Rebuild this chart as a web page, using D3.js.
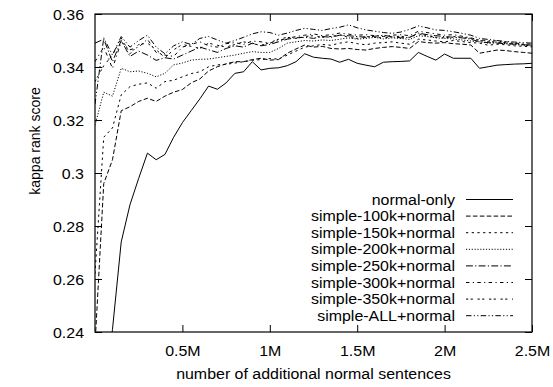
<!DOCTYPE html>
<html>
<head>
<meta charset="utf-8">
<script src="https://cdn.jsdelivr.net/npm/d3@7"></script>
<style>
  body { margin: 0; background: #fff; }
  text { font-family: "Liberation Sans", Arial, Helvetica, sans-serif; fill: #000; }
</style>
</head>
<body>
<div id="chart"></div>
<script>
// number of additional normal sentences (millions)
const sentences = [0, 0.05, 0.1, 0.15, 0.2, 0.25, 0.3, 0.35, 0.4, 0.45,
    0.5, 0.55, 0.6, 0.65, 0.7, 0.75, 0.8, 0.85, 0.9, 0.95,
    1.0, 1.05, 1.1, 1.15, 1.2, 1.25, 1.3, 1.35, 1.4, 1.45,
    1.5, 1.55, 1.6, 1.65, 1.7, 1.75, 1.8, 1.85, 1.9, 1.95,
    2.0, 2.05, 2.1, 2.15, 2.2, 2.25, 2.3, 2.35, 2.4, 2.45, 2.5];

const normalOnly = [null, 0.215, 0.241, 0.274, 0.288, 0.298, 0.3075, 0.305, 0.307, 0.3135,
    0.319, 0.3235, 0.328, 0.3328, 0.3316, 0.334, 0.3376, 0.3382, 0.342, 0.3389,
    0.3395, 0.3397, 0.3405, 0.342, 0.345, 0.3437, 0.3433, 0.343, 0.3418, 0.3429,
    0.3414, 0.3407, 0.3401, 0.3418, 0.342, 0.3421, 0.3423, 0.3455, 0.344, 0.3426,
    0.3449, 0.3433, 0.3433, 0.3433, 0.3395, 0.3401, 0.3407, 0.3409, 0.3411, 0.3412, 0.3414];

const simple100k = [0.235, 0.296, 0.305, 0.3235, 0.325, 0.327, 0.3282, 0.327, 0.329, 0.3305,
    0.3315, 0.334, 0.3355, 0.3385, 0.3401, 0.3412, 0.342, 0.342, 0.3428, 0.3433,
    0.3426, 0.3428, 0.3452, 0.3468, 0.3483, 0.3475, 0.3478, 0.347, 0.3468, 0.347,
    0.3466, 0.3464, 0.347, 0.3474, 0.3477, 0.3474, 0.347, 0.3496, 0.3492, 0.349,
    0.3492, 0.3488, 0.3486, 0.3483, 0.3452, 0.3458, 0.3464, 0.3462, 0.3458, 0.3455, 0.3452];

const simple150k = [0.262, 0.3135, 0.317, 0.3295, 0.3326, 0.3335, 0.334, 0.332, 0.3345, 0.335,
    0.3363, 0.3375, 0.3382, 0.3401, 0.3408, 0.341, 0.3415, 0.342, 0.3425, 0.3428,
    0.3432, 0.343, 0.3445, 0.346, 0.3475, 0.348, 0.3485, 0.3482, 0.349, 0.3495,
    0.3488, 0.3484, 0.349, 0.3492, 0.3495, 0.349, 0.3486, 0.3505, 0.3502, 0.3498,
    0.3495, 0.35, 0.3496, 0.3492, 0.349, 0.3482, 0.3486, 0.3484, 0.348, 0.3478, 0.3476];

const simple200k = [0.318, 0.3305, 0.329, 0.3395, 0.3382, 0.3385, 0.3376, 0.3363, 0.3376, 0.3408,
    0.3415, 0.3426, 0.3429, 0.343, 0.3435, 0.344, 0.3445, 0.3452, 0.3458, 0.3455,
    0.3455, 0.347, 0.349, 0.3495, 0.35, 0.3498, 0.3502, 0.35, 0.3505, 0.351,
    0.3505, 0.3508, 0.3512, 0.3506, 0.351, 0.3508, 0.3504, 0.3518, 0.3515, 0.351,
    0.3508, 0.3506, 0.3502, 0.3498, 0.3495, 0.349, 0.3492, 0.3488, 0.3485, 0.3482, 0.348];

const simple250k = [0.349, 0.3505, 0.342, 0.350, 0.344, 0.346, 0.3445, 0.3425, 0.3435, 0.343,
    0.3445, 0.346, 0.3475, 0.3465, 0.3455, 0.347, 0.348, 0.3475, 0.349, 0.348,
    0.3485, 0.3495, 0.3505, 0.351, 0.3512, 0.3508, 0.3515, 0.3512, 0.352, 0.3518,
    0.3515, 0.3512, 0.3516, 0.352, 0.3514, 0.351, 0.3512, 0.3528, 0.3522, 0.3518,
    0.3515, 0.3512, 0.351, 0.3505, 0.3495, 0.3492, 0.349, 0.3488, 0.3486, 0.3484, 0.3482];

const simple300k = [0.342, 0.3475, 0.3395, 0.3495, 0.3465, 0.3475, 0.3505, 0.3455, 0.3445, 0.344,
    0.3475, 0.3485, 0.3495, 0.348, 0.3475, 0.3488, 0.3492, 0.3485, 0.3498, 0.3495,
    0.349, 0.35, 0.3508, 0.3515, 0.352, 0.3525, 0.3518, 0.3522, 0.3528, 0.3524,
    0.352, 0.3522, 0.3518, 0.3515, 0.352, 0.3522, 0.3518, 0.3535, 0.353, 0.3525,
    0.352, 0.3522, 0.3516, 0.351, 0.3502, 0.35, 0.3498, 0.3495, 0.349, 0.3488, 0.3485];

const simple350k = [0.3345, 0.3405, 0.3445, 0.351, 0.345, 0.3485, 0.349, 0.3465, 0.3435, 0.3465,
    0.3485, 0.3478, 0.347, 0.349, 0.3482, 0.3475, 0.3485, 0.3495, 0.3488, 0.3482,
    0.3492, 0.3505, 0.3512, 0.3508, 0.3515, 0.3518, 0.3512, 0.3515, 0.3522, 0.3512,
    0.3508, 0.3515, 0.3512, 0.351, 0.3514, 0.3516, 0.3512, 0.3525, 0.3518, 0.3512,
    0.351, 0.3515, 0.3512, 0.3508, 0.35, 0.3496, 0.3494, 0.3492, 0.3488, 0.3485, 0.3478];

const simpleAll = [0.326, 0.351, 0.3445, 0.3515, 0.3475, 0.350, 0.352, 0.3475, 0.345, 0.348,
    0.3495, 0.3485, 0.3508, 0.3515, 0.3502, 0.349, 0.35, 0.3512, 0.3525, 0.3533,
    0.353, 0.352, 0.3528, 0.3538, 0.3546, 0.3542, 0.3538, 0.3545, 0.355, 0.3559,
    0.3548, 0.354, 0.3535, 0.353, 0.3527, 0.3532, 0.3542, 0.3555, 0.3548, 0.354,
    0.3538, 0.3533, 0.3527, 0.352, 0.3508, 0.3504, 0.35, 0.3496, 0.3494, 0.3492, 0.349];

const seriesNames = ["normal-only", "simple-100k+normal", "simple-150k+normal", "simple-200k+normal",
    "simple-250k+normal", "simple-300k+normal", "simple-350k+normal", "simple-ALL+normal"];
const seriesValues = [normalOnly, simple100k, simple150k, simple200k,
    simple250k, simple300k, simple350k, simpleAll];
// gnuplot style dash patterns
const seriesDashes = [null, "4.6,2.3", "2.3,3.4", "1.15,1.7", "6.9,2.3,1.15,2.3",
    "3.4,3.4,1.15,3.4", "2.3,2.3,2.3,4.6", "5.5,2.3,1.15,2.3,1.15,2.3"];

const xTicks = [0.5, 1, 1.5, 2, 2.5];
const xTickLabels = ["0.5M", "1M", "1.5M", "2M", "2.5M"];
const yTicks = [0.24, 0.26, 0.28, 0.3, 0.32, 0.34, 0.36];
const yTickLabels = ["0.24", "0.26", "0.28", "0.3", "0.32", "0.34", "0.36"];

const width = 553;
const height = 387;
const margin = { top: 14, right: 21, bottom: 55, left: 95 };
const stretch = 1.1; // text in the picture is a bit wider than normal

const x = d3.scaleLinear().domain([0, 2.5]).range([margin.left, width - margin.right]);
const y = d3.scaleLinear().domain([0.24, 0.36]).range([height - margin.bottom, margin.top]);

const svg = d3.select("#chart").append("svg")
    .attr("width", width)
    .attr("height", height);

svg.append("defs").append("clipPath")
    .attr("id", "plotclip")
    .append("rect")
    .attr("x", margin.left)
    .attr("y", margin.top)
    .attr("width", x.range()[1] - x.range()[0])
    .attr("height", y.range()[0] - y.range()[1]);

// Ticks pointing inwards on all four sides
const tickLen = 7;
const bottomAxis = svg.append("g")
    .attr("transform", `translate(0,${y.range()[0]})`)
    .call(d3.axisBottom(x).tickValues(xTicks).tickSize(-tickLen)
        .tickFormat((d, i) => xTickLabels[i]));
svg.append("g")
    .attr("transform", `translate(0,${y.range()[1]})`)
    .call(d3.axisTop(x).tickValues(xTicks).tickSize(-tickLen).tickFormat(""));
const leftAxis = svg.append("g")
    .attr("transform", `translate(${x.range()[0]},0)`)
    .call(d3.axisLeft(y).tickValues(yTicks).tickSize(-tickLen)
        .tickFormat((d, i) => yTickLabels[i]));
svg.append("g")
    .attr("transform", `translate(${x.range()[1]},0)`)
    .call(d3.axisRight(y).tickValues(yTicks).tickSize(-tickLen).tickFormat(""));

svg.selectAll(".domain").remove();
svg.selectAll(".tick line").attr("stroke", "#000").attr("stroke-width", 1);

bottomAxis.selectAll("text")
    .attr("y", null).attr("dy", null)
    .attr("font-size", 14.5)
    .attr("transform", `translate(0,24) scale(${stretch},1)`);
leftAxis.selectAll("text")
    .attr("x", null).attr("dy", null)
    .attr("font-size", 14.5)
    .attr("transform", `translate(-11,5) scale(${stretch},1)`);

// Lines
const line = d3.line()
    .defined(d => d[1] !== null)
    .x(d => x(d[0]))
    .y(d => y(d[1]));

svg.append("g")
    .attr("clip-path", "url(#plotclip)")
    .selectAll("path")
    .data(seriesValues)
    .join("path")
    .attr("d", vals => line(vals.map((v, i) => [sentences[i], v])))
    .attr("fill", "none")
    .attr("stroke", "#000")
    .attr("stroke-width", 1)
    .attr("stroke-dasharray", (d, i) => seriesDashes[i]);

// Frame
svg.append("rect")
    .attr("x", x.range()[0])
    .attr("y", y.range()[1])
    .attr("width", x.range()[1] - x.range()[0])
    .attr("height", y.range()[0] - y.range()[1])
    .attr("fill", "none")
    .attr("stroke", "#000")
    .attr("stroke-width", 1.2);

// Legend
const legend = svg.append("g")
    .attr("transform", "translate(455,199.5)");
const rows = legend.selectAll("g")
    .data(seriesNames)
    .join("g")
    .attr("transform", (d, i) => `translate(0,${i * 16.6})`);
rows.append("text")
    .attr("text-anchor", "end")
    .attr("font-size", 14.5)
    .attr("transform", `translate(0,5) scale(${stretch},1)`)
    .text(d => d);
rows.append("line")
    .attr("x1", 11).attr("x2", 58)
    .attr("stroke", "#000")
    .attr("stroke-width", 1)
    .attr("stroke-dasharray", (d, i) => seriesDashes[i]);

// Axis titles
svg.append("text")
    .attr("text-anchor", "middle")
    .attr("font-size", 14.5)
    .attr("transform", `translate(${(x.range()[0] + x.range()[1]) / 2},379) scale(${stretch},1)`)
    .text("number of additional normal sentences");

svg.append("text")
    .attr("text-anchor", "middle")
    .attr("font-size", 14)
    .attr("transform", "translate(40,141) rotate(-90)")
    .text("kappa rank score");
</script>
</body>
</html>
